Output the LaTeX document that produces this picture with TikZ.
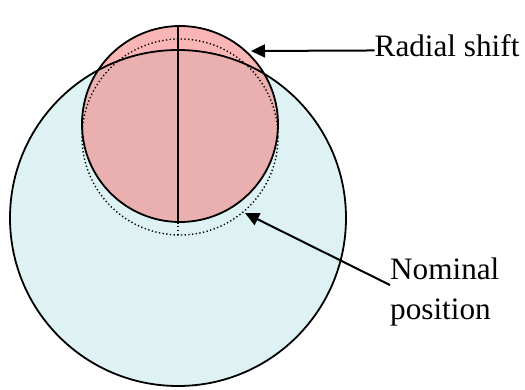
\documentclass[tikz,border=0pt]{standalone}
\usepackage{fontspec}
\setmainfont{Liberation Serif}
\usetikzlibrary{arrows.meta}
\definecolor{plateblue}{RGB}{222,242,243}
\definecolor{shiftred}{RGB}{245,120,120}
\tikzset{
    outline/.style={line width=1.8pt},
    nominal/.style={line width=1.4pt, dash pattern=on 1.3pt off 2.4pt},
    callout/.style={line width=2pt, -{Triangle[length=14pt,width=13pt]}},
    tagtext/.style={inner sep=0pt, font=\fontsize{31.2}{40}\selectfont}
}
\begin{document}
\begin{tikzpicture}[x=1pt, y=-1pt]
    \useasboundingbox (0,0) rectangle (525,390);

    \fill[plateblue] (178,218) circle (168);
    \fill[shiftred, fill opacity=0.55] (180,124) circle (98);
    \draw[nominal] (180,137) circle (98);
    \draw[outline] (178,218) circle (168);
    \draw[outline] (180,124) circle (98);

    \draw[outline] (178,26) -- (178,222.5);
    \draw[nominal] (178,222.5) -- (178,235);

    \node[tagtext, anchor=base west] (radial) at (374.5,57) {Radial shift};
    \node[tagtext, anchor=north west, align=left] (nominalpos) at (390,257.7)
        {Nominal\\position};

    \coordinate (radialtip) at (251,51);
    \coordinate (nominaltip) at (245,213);

    \draw[callout] ([yshift=-4.3pt]radial.west) -- (radialtip);
    \draw[callout] ([yshift=7pt]nominalpos.west) -- (nominaltip);
\end{tikzpicture}
\end{document}
